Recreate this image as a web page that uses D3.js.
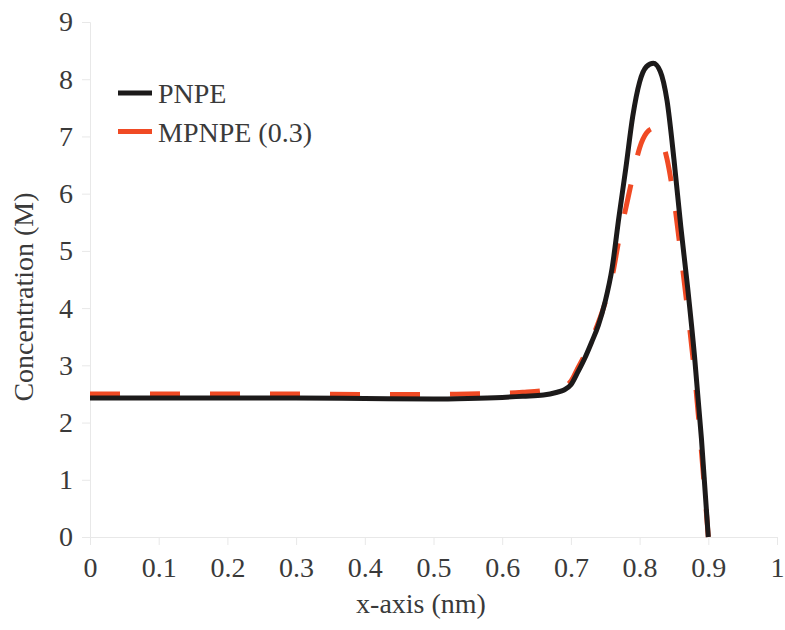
<!DOCTYPE html>
<html>
<head>
<meta charset="utf-8">
<script src="https://cdn.jsdelivr.net/npm/d3@7"></script>
<style>
  body { margin: 0; background: #fff; }
  #chart text { font-family: "Liberation Serif", "DejaVu Serif", serif !important; }
</style>
</head>
<body>
<svg id="chart" width="785" height="630"></svg>
<script>
// ----------

const X_VALUES = [0, 0.1, 0.2, 0.3, 0.4, 0.5, 0.55, 0.6, 0.63, 0.66, 0.68, 0.69, 0.7, 0.71, 0.72, 0.73, 0.74, 0.75,
  0.76, 0.77, 0.78, 0.79, 0.8, 0.81, 0.82, 0.83, 0.84, 0.85, 0.86, 0.87, 0.88, 0.89, 0.9];

const PNPE_VALUES = [2.43, 2.43, 2.43, 2.43, 2.42, 2.41, 2.42, 2.44, 2.46, 2.48, 2.53, 2.57, 2.66, 2.88, 3.12, 3.40, 3.70, 4.12,
  4.70, 5.60, 6.45, 7.35, 7.95, 8.22, 8.28, 8.14, 7.62, 6.60, 5.42, 4.35, 3.15, 1.72, 0.0];

const MPNPE_VALUES = [2.50, 2.50, 2.50, 2.50, 2.49, 2.49, 2.50, 2.51, 2.53, 2.56, 2.60, 2.63, 2.72, 2.95, 3.18, 3.45, 3.75, 4.10,
  4.55, 5.20, 5.75, 6.30, 6.80, 7.06, 7.14, 7.00, 6.60, 5.90, 4.95, 3.95, 2.85, 1.50, 0.0];

const X_TICKS = [0, 0.1, 0.2, 0.3, 0.4, 0.5, 0.6, 0.7, 0.8, 0.9, 1];
const Y_TICKS = [0, 1, 2, 3, 4, 5, 6, 7, 8, 9];

const SERIES_NAMES = ["PNPE", "MPNPE (0.3)"];

const BLACK = "#1c1a1a";
const RED = "#f04a24";
const AXIS_GRAY = "#e8e8e8";
const TEXT_COLOR = "#3a3a3a";

// ----------

const width = 785;
const height = 630;
const margin = { top: 22, right: 8, bottom: 93, left: 90 };

let svg = d3.select("#chart");

let x = d3.scaleLinear().domain([0, 1]).range([margin.left, width - margin.right]);
let y = d3.scaleLinear().domain([0, 9]).range([height - margin.bottom, margin.top]);

let xAxis = svg
  .append("g")
  .attr("transform", "translate(0," + y(0) + ")")
  .call(d3.axisBottom(x).tickValues(X_TICKS).tickSize(8).tickPadding(12).tickFormat(d3.format("")));

let yAxis = svg
  .append("g")
  .attr("transform", "translate(" + x(0) + ",0)")
  .call(d3.axisLeft(y).tickValues(Y_TICKS).tickSize(8).tickPadding(9));

svg.selectAll("g").attr("font-family", null).attr("font-size", 28);
svg.selectAll(".domain").attr("stroke", AXIS_GRAY).attr("stroke-width", 1);
svg.selectAll(".tick line").attr("stroke", AXIS_GRAY);
svg.selectAll(".tick text").attr("fill", TEXT_COLOR);
xAxis.selectAll(".tick text").attr("dy", "0.71em");

// axis titles
svg
  .append("text")
  .attr("x", 421)
  .attr("y", 613)
  .attr("text-anchor", "middle")
  .attr("font-size", 28)
  .attr("fill", TEXT_COLOR)
  .text("x-axis (nm)");

svg
  .append("text")
  .attr("transform", "translate(33,297) rotate(-90)")
  .attr("text-anchor", "middle")
  .attr("font-size", 28)
  .attr("fill", TEXT_COLOR)
  .text("Concentration (M)");

// ----------

let line = function (values) {
  return d3
    .line()
    .x((d, i) => x(X_VALUES[i]))
    .y((d) => y(d))
    .curve(d3.curveMonotoneX)(values);
};

svg
  .append("path")
  .attr("d", line(MPNPE_VALUES))
  .attr("fill", "none")
  .attr("stroke", RED)
  .attr("stroke-width", 5)
  .attr("stroke-dasharray", "30,30");

svg
  .append("path")
  .attr("d", line(PNPE_VALUES))
  .attr("fill", "none")
  .attr("stroke", BLACK)
  .attr("stroke-width", 5)
  .attr("stroke-linejoin", "round");

// legend
let legendColors = [BLACK, RED];
let legend = svg
  .selectAll(".legend")
  .data(SERIES_NAMES)
  .enter()
  .append("g")
  .attr("class", "legend")
  .attr("transform", (d, i) => "translate(118," + (93 + i * 38.5) + ")");

legend
  .append("line")
  .attr("x1", 0)
  .attr("x2", 34)
  .attr("stroke", (d, i) => legendColors[i])
  .attr("stroke-width", 5);

legend
  .append("text")
  .attr("x", 40)
  .attr("y", 10)
  .attr("font-size", 28)
  .attr("fill", TEXT_COLOR)
  .text((d) => d);
</script>
</body>
</html>
